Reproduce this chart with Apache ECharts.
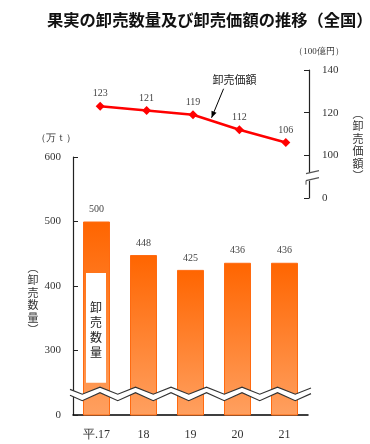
<!DOCTYPE html>
<html><head><meta charset="utf-8">
<script src="https://cdn.jsdelivr.net/npm/echarts@6/dist/echarts.min.js"></script>
<style>html,body{margin:0;padding:0;background:#fff}#c{width:370px;height:444px}</style>
</head><body><div id="c"></div>
<script>
const categories = ['平.17', '18', '19', '20', '21'];
const quantity = [500, 448, 425, 436, 436];      // 万t
const value = [123, 121, 119, 112, 106];          // 100億円
const qtyTicks = [0, 300, 400, 500, 600];
const valTicks = [0, 100, 120, 140];

(function () {
const serif = '"Liberation Serif","DejaVu Serif",serif';
const cjk = '"Noto Sans CJK JP","Noto Sans",sans-serif';
const chart = echarts.init(document.getElementById('c'));

// Broken axes: lowest displayed tick stands for 0
const qMin = 200, vMin = 80;
const option = {
  animation: false,
  title: {
    text: '果実の卸売数量及び卸売価額の推移（全国）',
    left: 42, top: 7,
    textStyle: {fontFamily: cjk, fontSize: 16.3, fontWeight: 'bold', color: '#111'}
  },
  grid: [
    {left: 77, right: 61, top: 70, height: 128},
    {left: 73, right: 62, top: 157, bottom: 29}
  ],
  xAxis: [
    {gridIndex: 0, type: 'category', data: categories, show: false},
    {gridIndex: 1, type: 'category', data: categories,
     axisLine: {lineStyle: {color: '#000', width: 1.5}},
     axisTick: {show: false},
     axisLabel: {fontFamily: serif, fontSize: 12, color: '#333', margin: 14}}
  ],
  yAxis: [
    {gridIndex: 0, type: 'value', position: 'right', min: vMin, max: 140, interval: 20,
     splitLine: {show: false},
     axisLine: {show: true, lineStyle: {color: '#222', width: 1.2}},
     axisTick: {show: true, inside: true, length: 5, lineStyle: {color: '#222'}},
     axisLabel: {fontFamily: serif, fontSize: 11, color: '#333', margin: 13,
       formatter: v => v === vMin ? String(valTicks[0]) : (valTicks.includes(v) ? String(v) : '')}},
    {gridIndex: 1, type: 'value', min: qMin, max: 600, interval: 100,
     splitLine: {show: false},
     axisLine: {show: true, lineStyle: {color: '#222', width: 1.2}},
     axisTick: {show: true, inside: true, length: 5, lineStyle: {color: '#222'}},
     axisLabel: {fontFamily: serif, fontSize: 11, color: '#333', margin: 12,
       formatter: v => v === qMin ? String(qtyTicks[0]) : (qtyTicks.includes(v) ? String(v) : '')}}
  ],
  series: [
    {type: 'bar', xAxisIndex: 1, yAxisIndex: 1, data: quantity, barWidth: 27, z: 2,
     itemStyle: {
       color: new echarts.graphic.LinearGradient(0, 0, 0, 1, [
         {offset: 0, color: '#FF6500'}, {offset: 1, color: '#FFA060'}]),
       borderColor: '#FF6A10', borderWidth: 1
     },
     label: {show: true, position: 'top', distance: 7, fontFamily: serif, fontSize: 10, color: '#444'}},
    {type: 'line', xAxisIndex: 0, yAxisIndex: 0, data: value, z: 5,
     lineStyle: {color: '#FF0000', width: 2.5},
     itemStyle: {color: '#FF0000'},
     symbol: 'diamond', symbolSize: 9,
     label: {show: true, position: 'top', distance: 3, fontFamily: serif, fontSize: 10, color: '#444'}}
  ]
};
chart.setOption(option);

function px(gi, x, y) { return chart.convertToPixel({gridIndex: gi}, [x, y]); }
const g = [];

// axis x positions
const t3 = px(0, 3, 100), t4 = px(0, 4, 100);
const rAxisX = t4[0] + (t4[0] - t3[0]) / 2;
const q0 = px(1, 0, 600), q1 = px(1, 1, 600);
const lAxisX = q0[0] - (q1[0] - q0[0]) / 2;

// zigzag break on quantity axis
const zy = px(1, 0, 233)[1];
const xl = 70, xr = 311, per = 35.5, x0 = 100;
function zig(offset, amp) {
  const pts = [];
  const f = x => {
    let ph = ((x - x0) / per) % 1; if (ph < 0) ph += 1;
    const tri = ph < 0.5 ? (1 - 4 * ph) : (-3 + 4 * ph);
    return zy + offset - amp * tri;
  };
  pts.push([xl, f(xl)]);
  let k = Math.ceil((xl - x0) / (per / 2));
  for (let x = x0 + k * per / 2; x < xr; x += per / 2) pts.push([x, f(x)]);
  pts.push([xr, f(xr)]);
  return pts;
}
const zTop = zig(-3, 3.5), zBot = zig(3, 4);
const band = zTop.concat(zBot.slice().reverse());
g.push({type: 'polygon', shape: {points: band}, style: {fill: '#fff'}, z: 10});
g.push({type: 'polyline', shape: {points: zTop}, style: {stroke: '#333', lineWidth: 1.2, fill: null}, z: 11});
g.push({type: 'polyline', shape: {points: zBot}, style: {stroke: '#333', lineWidth: 1.2, fill: null}, z: 11});

// break on value axis
const vby = px(0, 0, 90)[1];
g.push({type: 'rect', shape: {x: rAxisX - 4, y: vby - 4, width: 8, height: 8}, style: {fill: '#fff'}, z: 10});
g.push({type: 'line', shape: {x1: rAxisX - 3, y1: vby - 3, x2: rAxisX + 10, y2: vby - 6}, style: {stroke: '#555', lineWidth: 1.2}, z: 11});
g.push({type: 'line', shape: {x1: rAxisX - 3, y1: vby + 4, x2: rAxisX + 10, y2: vby + 1}, style: {stroke: '#555', lineWidth: 1.2}, z: 11});
g.push({type: 'line', shape: {x1: rAxisX - 3, y1: vby + 4, x2: rAxisX - 3, y2: vby + 8}, style: {stroke: '#555', lineWidth: 1}, z: 11});

// white box with inner label on first bar
const b0 = px(1, 0, 420), b1 = px(1, 0, 250);
g.push({type: 'rect', shape: {x: b0[0] - 10.5, y: b0[1], width: 20, height: b1[1] - b0[1]}, style: {fill: '#fff'}, z: 6});
g.push({type: 'text', x: b0[0] - 0.5, y: (b0[1] + b1[1]) / 2 + 2, style: {text: '卸\n売\n数\n量', fontFamily: cjk, fontSize: 12, lineHeight: 15, fill: '#222', align: 'center', verticalAlign: 'middle'}, z: 7});

// unit labels
const rTopY = px(0, 0, 140)[1], lTopY = px(1, 0, 600)[1];
g.push({type: 'text', x: rAxisX + 10, y: rTopY - 18, style: {text: '（100億円）', fontFamily: serif, fontSize: 9, fill: '#333', align: 'center', verticalAlign: 'middle'}});
g.push({type: 'text', x: lAxisX - 17, y: lTopY - 19, style: {text: '（万ｔ）', fontFamily: serif, fontSize: 10, fill: '#333', align: 'center', verticalAlign: 'middle'}});

// vertical axis names
const rMidY = px(0, 0, 105)[1];
g.push({type: 'text', x: 358, y: rMidY, style: {text: '︵\n卸\n売\n価\n額\n︶', fontFamily: cjk, fontSize: 11, lineHeight: 12.5, fill: '#333', align: 'center', verticalAlign: 'middle'}});
const lMidY = px(1, 0, 380)[1];
g.push({type: 'text', x: 33, y: lMidY, style: {text: '︵\n卸\n売\n数\n量\n︶', fontFamily: cjk, fontSize: 11, lineHeight: 12.5, fill: '#333', align: 'center', verticalAlign: 'middle'}});

// annotation arrow (points at the segment between 19 and 20)
const s2 = px(0, 2, value[2]), s3 = px(0, 3, value[3]);
const tip = [s2[0] + (s3[0] - s2[0]) * 0.4, s2[1] + (s3[1] - s2[1]) * 0.4];
g.push({type: 'text', x: tip[0] + 23, y: tip[1] - 41, style: {text: '卸売価額', fontFamily: cjk, fontSize: 11, fill: '#222', align: 'center', verticalAlign: 'middle'}});
const ax1 = tip[0] + 12, ay1 = tip[1] - 32, ax2 = tip[0], ay2 = tip[1] - 3;
g.push({type: 'line', shape: {x1: ax1, y1: ay1, x2: ax2, y2: ay2}, style: {stroke: '#000', lineWidth: 1}, z: 8});
const ang = Math.atan2(ay2 - ay1, ax2 - ax1);
const hl = 7, hw = 0.4;
g.push({type: 'polygon', shape: {points: [[ax2, ay2],
  [ax2 - hl * Math.cos(ang - hw), ay2 - hl * Math.sin(ang - hw)],
  [ax2 - hl * Math.cos(ang + hw), ay2 - hl * Math.sin(ang + hw)]]}, style: {fill: '#000'}, z: 8});

chart.setOption({graphic: {elements: g}});
})();
</script></body></html>
